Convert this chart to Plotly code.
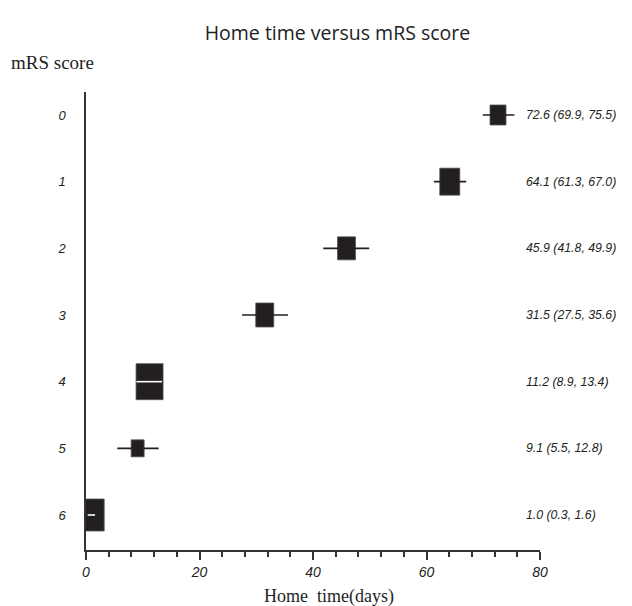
import plotly.graph_objects as go

# ---- data ----
mrs_scores = [0, 1, 2, 3, 4, 5, 6]
mrs_labels = ["0", "1", "2", "3", "4", "5", "6"]
home_time = [72.6, 64.1, 45.9, 31.5, 11.2, 9.1, 1.0]
ci_low = [69.9, 61.3, 41.8, 27.5, 8.9, 5.5, 0.3]
ci_high = [75.5, 67.0, 49.9, 35.6, 13.4, 12.8, 1.6]
x_ticks = [0, 20, 40, 60, 80]

# ---- styles ----
box_w = [16, 20, 18, 18, 27, 13, 25]      # pixel width of each box
box_h = [20, 27, 23, 24, 36, 17, 32]      # pixel height of each box
ci_on_box = [False, False, False, False, True, False, True]  # CI drawn inside box (white)
INK = "#231f20"
AXIS = "#333333"

fig = go.Figure()

xs_dark, ys_dark, xs_white, ys_white = [], [], [], []
for s, lo, hi, inside in zip(mrs_scores, ci_low, ci_high, ci_on_box):
    if inside:
        xs_white += [lo, hi, None]
        ys_white += [s, s, None]
    else:
        xs_dark += [lo, hi, None]
        ys_dark += [s, s, None]

fig.add_trace(go.Scatter(x=xs_dark, y=ys_dark, mode="lines",
                         line=dict(color=INK, width=1.6), hoverinfo="skip",
                         showlegend=False))
fig.add_trace(go.Scatter(x=xs_white, y=ys_white, mode="lines",
                         line=dict(color="white", width=1.6), hoverinfo="skip",
                         showlegend=False))
fig.add_trace(go.Scatter(x=home_time, y=mrs_scores, mode="markers",
                         marker=dict(size=1, color="rgba(0,0,0,0)"),
                         showlegend=False))

shapes = []
for s, v, w, h in zip(mrs_scores, home_time, box_w, box_h):
    shapes.append(dict(type="rect", layer="below", xref="x", yref="y",
                       xsizemode="pixel", ysizemode="pixel",
                       xanchor=v, yanchor=s,
                       x0=-w / 2, x1=w / 2, y0=-h / 2, y1=h / 2,
                       fillcolor=INK, line=dict(color="#555555", width=0.8)))

annotations = []
for s, v, lo, hi in zip(mrs_scores, home_time, ci_low, ci_high):
    annotations.append(dict(xref="paper", yref="y", x=1, y=s, xshift=-16,
                            xanchor="left", yanchor="middle", showarrow=False,
                            text=f"<i>{v:.1f} ({lo:.1f}, {hi:.1f})</i>",
                            font=dict(family="Liberation Sans", size=12.3, color=INK)))
annotations.append(dict(xref="paper", yref="paper", x=0, y=1, xshift=-77, yshift=30,
                        xanchor="left", yanchor="middle", showarrow=False,
                        text="mRS score",
                        font=dict(family="Liberation Serif", size=19, color=INK)))
annotations.append(dict(xref="paper", yref="paper", x=0.5, y=0, xshift=16, yshift=-46,
                        xanchor="center", yanchor="middle", showarrow=False,
                        text="Home\u00a0\u00a0time(days)",
                        font=dict(family="Liberation Serif", size=18, color=INK)))

# page body adds an 8px offset, so the figure is 624x598 placed at (8, 8)
fig.update_layout(
    width=624, height=598,
    margin=dict(l=78, r=92, t=84, b=56, autoexpand=False),
    plot_bgcolor="white", paper_bgcolor="white",
    title=dict(text="Home time versus mRS score", x=0.528, xanchor="center",
               y=1 - 25 / 598, yanchor="middle", yref="container",
               font=dict(family="Open Sans", size=19.5, color="#222222")),
    shapes=shapes, annotations=annotations,
    xaxis=dict(range=[0, 80], tickvals=x_ticks, ticktext=[f"<i>{t}</i>" for t in x_ticks],
               showline=True, linecolor=AXIS, linewidth=1.5,
               ticks="outside", ticklen=8, tickwidth=1.5, tickcolor=AXIS,
               minor=dict(ticks="outside", dtick=4, ticklen=5, tickwidth=1.5, tickcolor=AXIS),
               showgrid=False, zeroline=False,
               tickfont=dict(family="Liberation Sans", size=14, color=INK)),
    yaxis=dict(range=[6.525, -0.345], tickvals=mrs_scores,
               ticktext=[f"<i>{t}</i>" for t in mrs_labels],
               showline=True, linecolor=AXIS, linewidth=1.5, ticks="",
               ticklabelstandoff=16,
               showgrid=False, zeroline=False,
               tickfont=dict(family="Liberation Sans", size=13, color=INK)),
)

fig.write_html("out.html")
